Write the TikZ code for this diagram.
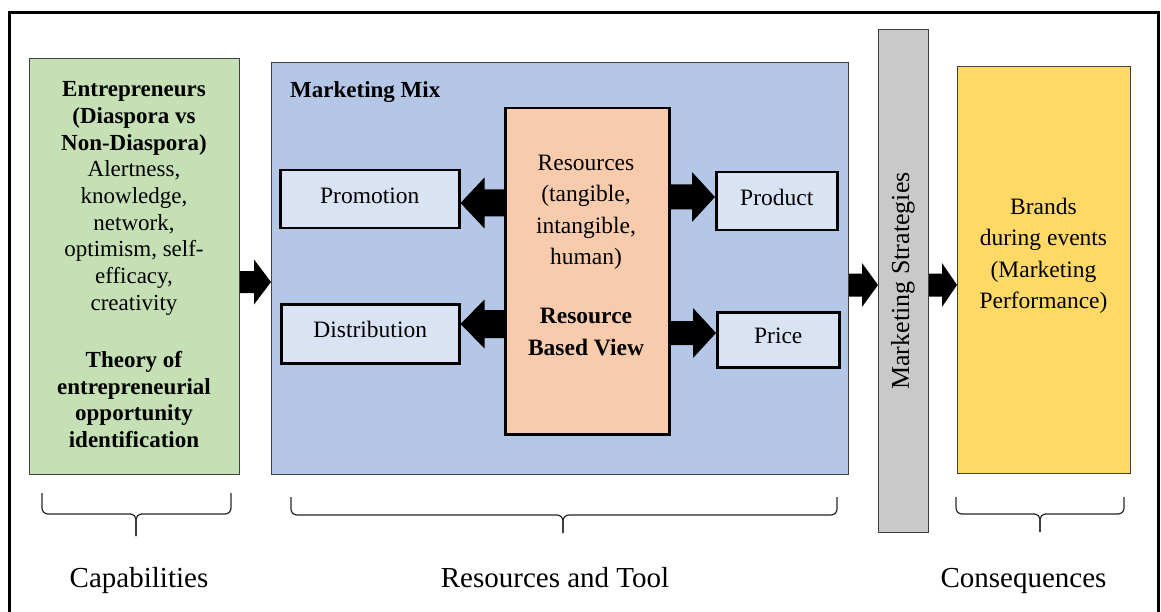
\documentclass[tikz,border=0pt]{standalone}
\usepackage{fontspec}
\setmainfont{Liberation Serif}
\usetikzlibrary{calc}
\definecolor{cgreen}{HTML}{C5E0B4}
\definecolor{cblue}{HTML}{B4C7E7}
\definecolor{clight}{HTML}{DAE3F3}
\definecolor{corange}{HTML}{F8CBAD}
\definecolor{cgray}{HTML}{C9C9C9}
\definecolor{cyellow}{HTML}{FFD966}
\definecolor{cedge}{HTML}{404040}
% start, tip, shaft half-height, head half-height, signed head length
\newcommand\fatarrow[5]{%
  \path #1 coordinate (fa-s);
  \path #2 coordinate (fa-t);
  \fill[black] let \p1=(fa-s), \p2=(fa-t) in
    (\x1,\y2+#3) -- (\x2-#5,\y2+#3) -- (\x2-#5,\y2+#4) -- (\x2,\y2)
    -- (\x2-#5,\y2-#4) -- (\x2-#5,\y2-#3) -- (\x1,\y2-#3) -- cycle;}
\tikzset{
  bigbox/.style={draw=cedge, line width=1.2pt, inner sep=0pt, anchor=north west},
  smallbox/.style={draw=black, line width=2.5pt, fill=clight, inner sep=0pt, anchor=north west,
     text height=16pt, text depth=8pt, font=\fontsize{23.5}{28}\selectfont},
  bracestyle/.style={draw=black!85, line width=1.2pt, rounded corners=6pt},
  lbl/.style={font=\fontsize{29}{34}\selectfont, inner sep=0pt, anchor=base},
}
\begin{document}
\begin{tikzpicture}[x=1pt,y=-1pt]
\useasboundingbox (0,0) rectangle (1161,612);
% outer frame
\draw[line width=3pt] (9,614) -- (9,13) -- (1158,13) -- (1158,614);

% boxes
\node[bigbox, fill=cgreen, minimum width=210pt, minimum height=416pt] (green) at (29,58) {};
\node[bigbox, fill=cblue, minimum width=577pt, minimum height=412pt] (blue) at (271,62) {};
\node[bigbox, fill=cgray, minimum width=50pt, minimum height=503pt] (gray) at (878,29) {};
\node[bigbox, fill=cyellow, minimum width=173pt, minimum height=407pt] (yellow) at (957,66) {};
\node[draw=black, line width=2.5pt, fill=corange, inner sep=0pt, anchor=north west,
      minimum width=164pt, minimum height=326pt] (res) at (504,107) {};
\node[smallbox, minimum width=179pt, minimum height=58pt] (promo) at (279,169) {Promotion};
\node[smallbox, minimum width=178pt, minimum height=59pt] (dist) at (280,303) {Distribution};
\node[smallbox, minimum width=121pt, minimum height=58pt] (prod) at (715,171) {Product};
\node[smallbox, minimum width=122pt, minimum height=55pt] (price) at (716,311) {Price};

% texts
\node[inner sep=0pt, anchor=north, align=center, font=\fontsize{23}{26.7}\selectfont]
  (greentext) at (134,81.5)
  {\textbf{Entrepreneurs}\\ \textbf{(Diaspora vs}\\ \textbf{Non-Diaspora)}\\
   Alertness,\\ knowledge,\\ network,\\ optimism, self-\\ efficacy,\\ creativity\\[30.3pt]
   \textbf{Theory of}\\ \textbf{entrepreneurial}\\ \textbf{opportunity}\\ \textbf{identification}};
\node[inner sep=0pt, anchor=base west, font=\fontsize{23}{27}\selectfont\bfseries]
  (mixlabel) at (290,98) {Marketing Mix};
\node[inner sep=0pt, anchor=north, align=center, font=\fontsize{23.5}{31.5}\selectfont]
  (restext) at (586,154.5)
  {Resources\\ (tangible,\\ intangible,\\ human)\\[27.5pt]
   \textbf{Resource}\\ \textbf{Based View}};
\node[inner sep=0pt, rotate=90, font=\fontsize{26}{30}\selectfont]
  (stratext) at (903,281) {Marketing Strategies};
\node[inner sep=0pt, anchor=north, align=center, font=\fontsize{23.5}{31.5}\selectfont]
  (brandtext) at (1043.5,197.5)
  {Brands\\ during events\\ (Marketing\\ Performance)};

% fat arrows
\fatarrow{(green.east)}{(blue.west |- 0,282)}{11pt}{22.5pt}{17pt}
\fatarrow{(res.west)}{(promo.east |- 0,203)}{13.5pt}{25.5pt}{-24pt}
\fatarrow{(res.west)}{(dist.east |- 0,324)}{14pt}{24.5pt}{-24pt}
\fatarrow{(res.east)}{(prod.west |- 0,197)}{12.5pt}{25pt}{23pt}
\fatarrow{(res.east)}{(price.west |- 0,333)}{12pt}{25pt}{23pt}
\fatarrow{(blue.east)}{(gray.west |- 0,285)}{11.5pt}{22pt}{16pt}
\fatarrow{(gray.east)}{(yellow.west |- 0,285)}{11.5pt}{22pt}{15pt}

% braces
\coordinate (b1l) at (42,493);  \coordinate (b1r) at (231,493); \coordinate (b1m) at (136,514); \coordinate (b1t) at (136,536);
\coordinate (b2l) at (291,497); \coordinate (b2r) at (837,497); \coordinate (b2m) at (563,515); \coordinate (b2t) at (563,533);
\coordinate (b3l) at (956,497); \coordinate (b3r) at (1124,497); \coordinate (b3m) at (1040,514); \coordinate (b3t) at (1040,532);
\draw[bracestyle] (b1l) |- (b1m) -- (b1t);
\draw[bracestyle] (b1r) |- (b1m) -- (b1t);
\draw[bracestyle] (b2l) |- (b2m) -- (b2t);
\draw[bracestyle] (b2r) |- (b2m) -- (b2t);
\draw[bracestyle] (b3l) |- (b3m) -- (b3t);
\draw[bracestyle] (b3r) |- (b3m) -- (b3t);

% labels
\node[lbl] (cap) at (139,587) {Capabilities};
\node[lbl] (rat) at (555,587) {Resources and Tool};
\node[lbl] (con) at (1023.5,587) {Consequences};
\end{tikzpicture}
\end{document}
